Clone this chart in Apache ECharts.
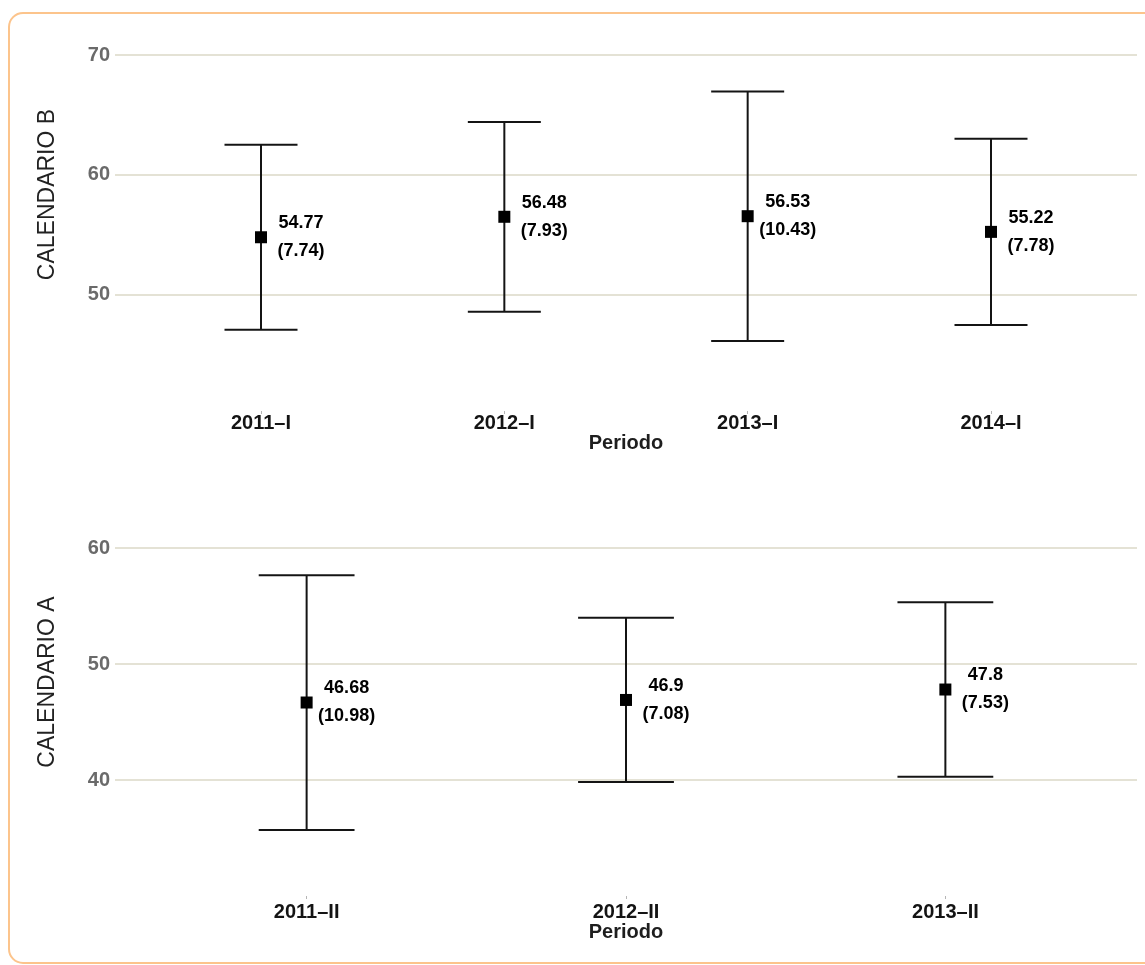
<!DOCTYPE html>
<html>
<head>
<meta charset="utf-8">
<title>Periodo por calendario</title>
<script src="https://cdn.jsdelivr.net/npm/echarts@6/dist/echarts.min.js"></script>
<style>
  html, body { margin: 0; padding: 0; background: #fff; overflow: hidden; }
  #frame {
    position: absolute; left: 8px; top: 12px; width: 1180px; height: 952px;
    border: 2px solid #fcc48c; border-radius: 15px; box-sizing: border-box;
  }
  #chart { position: absolute; left: 0; top: 0; width: 1145px; height: 965px; }
</style>
</head>
<body>
<div id="frame"></div>
<div id="chart"></div>
<script>
// Calendario B (periodos I)
const catsB = ['2011\u2013I', '2012\u2013I', '2013\u2013I', '2014\u2013I'];
const meanB = [54.77, 56.48, 56.53, 55.22];
const sdB = [7.74, 7.93, 10.43, 7.78];

// Calendario A (periodos II)
const catsA = ['2011\u2013II', '2012\u2013II', '2013\u2013II'];
const meanA = [46.68, 46.9, 47.8];
const sdA = [10.98, 7.08, 7.53];

const yTicksB = [40, 50, 60, 70];
const yTicksA = [30, 40, 50, 60];

const FONT = '"Liberation Sans", Arial, sans-serif';
const GRID_COLOR = '#e4e2d5';
const INK = '#141414';

function xAxisFor(cats, gridIndex, margin, nameGap, tickInside) {
  const idx = cats.map((_, i) => i);
  return {
    type: 'value', gridIndex,
    min: -0.6, max: cats.length - 0.4,
    name: 'Periodo', nameLocation: 'middle', nameGap,
    nameTextStyle: { fontFamily: FONT, fontSize: 20, fontWeight: 'bold', color: '#1e1e1e' },
    axisLine: { show: false },
    splitLine: { show: false },
    axisTick: { show: true, customValues: idx, length: 3, inside: tickInside,
                lineStyle: { color: '#b5b5b5', width: 1 } },
    axisLabel: {
      customValues: idx, margin,
      fontFamily: FONT, fontSize: 20, fontWeight: 'bold', color: INK,
      formatter: v => cats[Math.round(v)]
    }
  };
}

function yAxisFor(ticks, name, gridIndex) {
  return {
    type: 'value', gridIndex,
    min: ticks[0], max: ticks[ticks.length - 1], interval: ticks[1] - ticks[0],
    name, nameLocation: 'middle', nameRotate: 90, nameGap: 56,
    nameTextStyle: { fontFamily: FONT, fontSize: 23, color: '#222', padding: [0, 0, 0, 80] },
    axisLine: { show: false },
    axisTick: { show: false },
    axisLabel: { showMinLabel: false, margin: 5, fontFamily: FONT, fontSize: 20,
                 fontWeight: 'bold', color: '#6a6a6a' },
    splitLine: { show: true, showMinLine: false, lineStyle: { color: GRID_COLOR, width: 2 } }
  };
}

function errorBars(means, sds, axisIndex) {
  return {
    type: 'custom', xAxisIndex: axisIndex, yAxisIndex: axisIndex, z: 3,
    data: means.map((m, i) => [i, m, sds[i]]),
    renderItem(params, api) {
      const x = api.value(0), m = api.value(1), s = api.value(2);
      const hi = m + s, lo = m - s, half = 0.15;
      const top = api.coord([x, hi]), bot = api.coord([x, lo]);
      const tl = api.coord([x - half, hi]), tr = api.coord([x + half, hi]);
      const bl = api.coord([x - half, lo]), br = api.coord([x + half, lo]);
      const style = { stroke: INK, lineWidth: 2 };
      return {
        type: 'group',
        children: [
          { type: 'line', shape: { x1: top[0], y1: top[1], x2: bot[0], y2: bot[1] }, style },
          { type: 'line', shape: { x1: tl[0], y1: tl[1], x2: tr[0], y2: tr[1] }, style },
          { type: 'line', shape: { x1: bl[0], y1: bl[1], x2: br[0], y2: br[1] }, style }
        ]
      };
    }
  };
}

function meanPoints(means, sds, axisIndex) {
  return {
    type: 'scatter', xAxisIndex: axisIndex, yAxisIndex: axisIndex, z: 5,
    symbol: 'rect', symbolSize: 12,
    itemStyle: { color: '#000', opacity: 1 },
    data: means.map((m, i) => [i, m, sds[i]]),
    label: {
      show: true, position: 'right', distance: 34, align: 'center',
      fontFamily: FONT, fontSize: 18, fontWeight: 'bold', color: '#000', lineHeight: 28,
      formatter: p => p.value[1] + '\n(' + p.value[2] + ')'
    },
    emphasis: { disabled: true }
  };
}

const chart = echarts.init(document.getElementById('chart'), null, { renderer: 'canvas' });
chart.setOption({
  animation: false,
  backgroundColor: 'transparent',
  grid: [
    { left: 115, right: 8, top: 55, height: 359 },
    { left: 115, right: 8, top: 548, height: 348 }
  ],
  xAxis: [
    xAxisFor(catsB, 0, -1, 19, true),
    xAxisFor(catsA, 1, 6, 22, false)
  ],
  yAxis: [
    yAxisFor(yTicksB, 'CALENDARIO B', 0),
    yAxisFor(yTicksA, 'CALENDARIO A', 1)
  ],
  series: [
    errorBars(meanB, sdB, 0),
    meanPoints(meanB, sdB, 0),
    errorBars(meanA, sdA, 1),
    meanPoints(meanA, sdA, 1)
  ]
});
</script>
</body>
</html>
